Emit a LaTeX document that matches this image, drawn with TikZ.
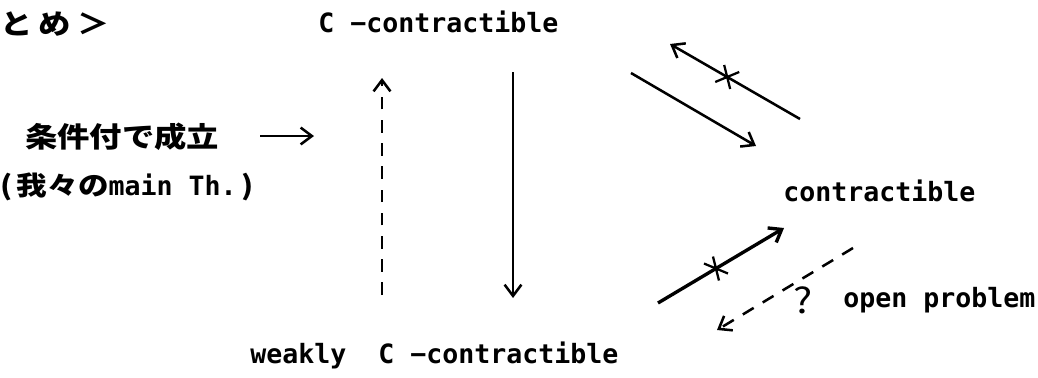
\documentclass[tikz,border=0pt]{standalone}
\usepackage{fontspec}
\setmainfont{DejaVu Sans Mono}
\newfontfamily\jpfont{Noto Sans CJK JP}[FakeStretch=1.15]
\newfontfamily\jptitle{Noto Sans CJK JP}[FakeStretch=1.15, LetterSpace=22]
\usetikzlibrary{arrows.meta}

\begin{document}
\begin{tikzpicture}[x=0.025cm, y=-0.025cm, >={Straight Barb[length=8pt, width=12pt]},
    lbl/.style={inner sep=0pt, font=\fontsize{18.9}{22}\selectfont\bfseries},
    jp/.style={inner sep=0pt, font=\fontsize{20}{24}\selectfont\jpfont\bfseries},
    arr/.style={->, line width=1.8pt},
    dsh/.style={arr, dash pattern=on 9pt off 7.5pt},
    crs/.pic={\draw[-, solid, line width=1.6pt] (-3,-12) -- (3,12) (-12,5) -- (12,-5);},
    crsb/.pic={\draw[-, solid, line width=1.6pt] (-3,-12) -- (3,12) (-12,-5) -- (12,5);}]

    \useasboundingbox (0,0) rectangle (1038,377);

    % texts
    \node[jp, font=\fontsize{20}{24}\selectfont\jptitle\bfseries, anchor=west] (title) at (0,24) {とめ＞};
    \node[lbl, anchor=west] (cc) at (318,22) {C −contractible};
    \node[jp, anchor=west] (cond) at (25,137) {条件付で成立};
    \node[lbl, anchor=west] (mainth) at (0,187)
      {{\jpfont (\,我々の}main Th.{\jpfont \,)}};
    \node[lbl, anchor=west] (ctr) at (783,191) {contractible};
    \node[lbl, anchor=west] (wcc) at (250,355) {weakly\ \ C −contractible};
    \node[jp, font=\fontsize{25}{28}\selectfont\jpfont] (qm) at (803,300) {?};
    \node[lbl, anchor=west] (open) at (843,300) {open problem};

    % arrow ends
    \coordinate (h0) at (260,136);
    \coordinate (h1) at (314,136);
    \coordinate (up0) at (382,295);
    \coordinate (up1) at (382,78);
    \coordinate (dn0) at (513,72);
    \coordinate (dn1) at (513,298);
    \coordinate (a0) at (631,73);
    \coordinate (a1) at (756,146);
    \coordinate (b0) at (800,119);
    \coordinate (b1) at (670,44);
    \coordinate (c0) at (658,303);
    \coordinate (c1) at (784,228);
    \coordinate (e0) at (853,248);
    \coordinate (e1) at (717,330);

    \draw[arr] (h0) -- (h1);
    \draw[dsh] (up0) -- (up1);
    \draw[arr] (dn0) -- (dn1);

    % C-contractible <-> contractible
    \draw[arr] (a0) -- (a1);
    \draw[arr] (b0) -- (b1) pic[pos=0.56]{crs};

    % weakly C-contractible <-> contractible
    \draw[arr, line width=2.4pt] (c0) -- (c1) pic[pos=0.46]{crsb};
    \draw[dsh] (e0) -- (e1);

\end{tikzpicture}
\end{document}
